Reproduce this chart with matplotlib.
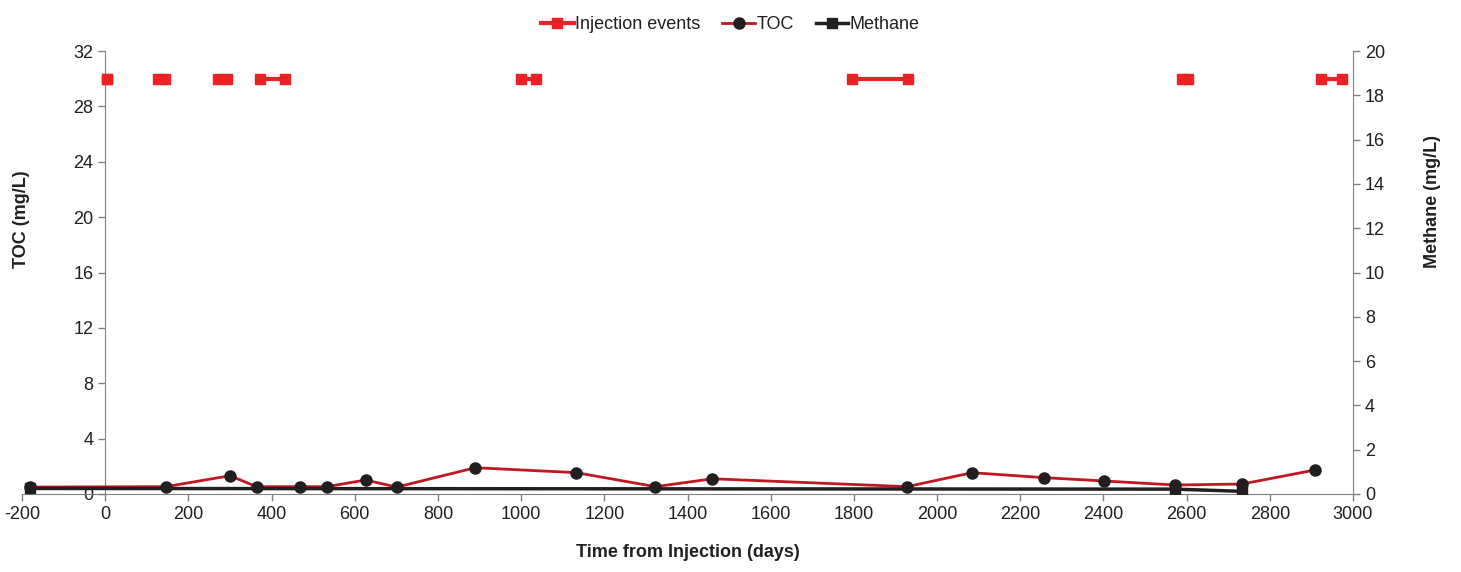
import matplotlib.pyplot as plt
import numpy as np

plt.rcParams['font.family'] = ['Liberation Sans', 'DejaVu Sans']
plt.rcParams['font.size'] = 13
plt.rcParams['axes.unicode_minus'] = False

# TOC samples (days, mg/L)
toc_days = [-181, 146, 300, 364, 468, 533, 626, 701, 890, 1133, 1323, 1460,
            1928, 2084, 2257, 2402, 2572, 2733, 2908]
toc_vals = [0.5, 0.53, 1.32, 0.53, 0.53, 0.53, 1.01, 0.5, 1.9, 1.54, 0.53, 1.1,
            0.53, 1.54, 1.18, 0.94, 0.65, 0.72, 1.73]

# Methane samples (days, mg/L)
meth_days = [-181, 2572, 2733]
meth_vals = [0.25, 0.22, 0.12]

# Injection events (start / end day), drawn at TOC = 30
inj_start = [5, 126, 272, 373, 1000, 1796, 2588, 2923]
inj_end = [5, 145, 292, 432, 1035, 1931, 2603, 2973]
inj_level = 30

red = '#ED2024'
toc_red = '#C1171F'
grey = '#808080'
txt = '#231F20'

fig = plt.figure(figsize=(14.61, 5.72), dpi=100)
ax = fig.add_axes([22/1461, 1-494/572, 1331/1461, 443/572])
ax2 = ax.twinx()

for i in range(len(inj_start)):
    ax.plot([inj_start[i], inj_end[i]], [inj_level, inj_level], color=red, lw=3,
            marker='s', ms=7.5, mec=red, mfc=red, solid_capstyle='butt', zorder=3)
ax.plot(toc_days, toc_vals, color=toc_red, lw=2, marker='o', ms=8,
        mfc='#231F20', mec='#231F20', zorder=4)
ax2.plot(meth_days, meth_vals, color='#231F20', lw=2.5, marker='s', ms=7.5,
         mfc='#231F20', mec='#231F20', zorder=2)

ax.set_xlim(-200, 3000)
ax.set_ylim(0, 32)
ax.set_xticks(np.arange(-200, 3001, 200))
ax.set_yticks(np.arange(0, 33, 4))
ax2.set_ylim(0, 20)
ax2.set_yticks(np.arange(0, 21, 2))

ax.spines['left'].set_position(('data', 0))
ax.spines['top'].set_visible(False)
ax.spines['right'].set_visible(False)
for s in ['left', 'top', 'bottom']:
    ax2.spines[s].set_visible(False)
for s in ['left', 'bottom']:
    ax.spines[s].set_color(grey)
ax2.spines['right'].set_color(grey)

ax.tick_params(colors=grey, labelcolor=txt, length=5, width=1)
ax2.tick_params(colors=grey, labelcolor=txt, length=5, width=1)

ax.set_xlabel('Time from Injection (days)', fontweight='bold', color=txt, labelpad=15)
ax.set_ylabel('TOC (mg/L)', fontweight='bold', color=txt)
ax.yaxis.set_label_coords(0.006, 0.62)
ax2.set_ylabel('Methane (mg/L)', fontweight='bold', color=txt)
ax2.yaxis.set_label_coords(1.053, 0.66)

h1 = plt.Line2D([], [], color=red, lw=3, marker='s', ms=7.5, mfc=red, mec=red)
h2 = plt.Line2D([], [], color=toc_red, lw=2, marker='o', ms=8, mfc='#231F20', mec='#231F20')
h3 = plt.Line2D([], [], color='#231F20', lw=2.5, marker='s', ms=7.5, mfc='#231F20', mec='#231F20')
fig.legend([h1, h2, h3], ['Injection events', 'TOC', 'Methane'], loc='upper center',
           bbox_to_anchor=(0.5, 1.0), ncol=3, frameon=False, handlelength=1.8,
           handletextpad=0.1, columnspacing=1.2, labelcolor=txt)

fig.savefig('out.png', dpi=100)
